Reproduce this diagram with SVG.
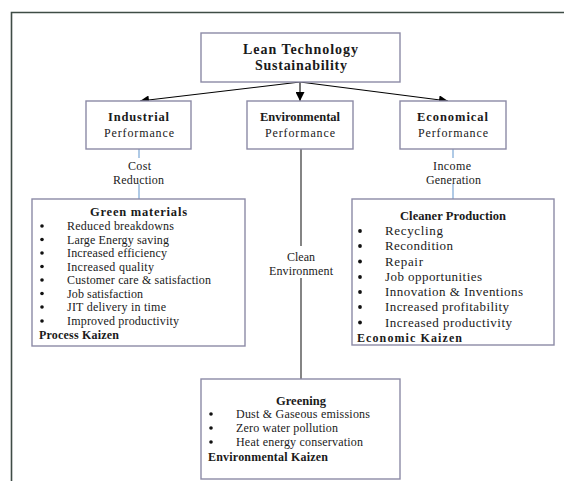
<svg xmlns="http://www.w3.org/2000/svg" width="564" height="481" viewBox="0 0 564 481">
  <defs>
    <marker id="arrow" viewBox="0 0 10 10" refX="10" refY="5" markerWidth="9" markerHeight="9" markerUnits="userSpaceOnUse" orient="auto">
      <path d="M0,0 L10,5 L0,10 z" fill="#000"/>
    </marker>
    <style>
      .frame { fill: none; stroke: #3f4c46; stroke-width: 1.6; }
      .box { fill: #fff; stroke: #8c8aa6; stroke-width: 1.4; }
      .arrow { stroke: #000; stroke-width: 1.1; fill: none; marker-end: url(#arrow); }
      .link-blue { stroke: #7aa7d6; stroke-width: 1.2; fill: none; }
      .link-dark { stroke: #333; stroke-width: 1.2; fill: none; }
      text { font-family: "Liberation Serif", "Times New Roman", serif; fill: #1a1a1a; }
      .title { font-size: 14px; font-weight: bold; text-anchor: middle; }
      .head { font-size: 12.5px; font-weight: bold; text-anchor: middle; }
      .sub { font-size: 12px; text-anchor: middle; }
      .label { font-size: 12px; text-anchor: middle; }
      .item { font-size: 12px; }
      .item-lg { font-size: 13px; }
      .bold { font-weight: bold; }
      .bullet { fill: #111; }
    </style>
  </defs>

  <rect width="564" height="481" fill="#fff"/>
  <!-- page frame -->
  <path class="frame" d="M11.5,481 V12.5 H564"/>

  <!-- connectors -->
  <g id="connectors">
    <line class="arrow" x1="300" y1="82" x2="140" y2="101"/>
    <line class="arrow" x1="300" y1="82" x2="300" y2="101"/>
    <line class="arrow" x1="300" y1="82" x2="448" y2="101"/>
    <line class="link-blue" x1="139" y1="149" x2="139" y2="158"/>
    <line class="link-blue" x1="139" y1="184" x2="139" y2="199"/>
    <line class="link-blue" x1="453" y1="149" x2="453" y2="158"/>
    <line class="link-blue" x1="453" y1="184" x2="453" y2="199"/>
    <line class="link-dark" x1="301" y1="149" x2="301" y2="246"/>
    <line class="link-dark" x1="301" y1="278" x2="301" y2="379"/>
    <text class="label" x="139.5" y="170" textLength="23">Cost</text>
    <text class="label" x="138.5" y="184" textLength="51">Reduction</text>
    <text class="label" x="301" y="261" textLength="28">Clean</text>
    <text class="label" x="301" y="275" textLength="64">Environment</text>
    <text class="label" x="452" y="170" textLength="38">Income</text>
    <text class="label" x="453.5" y="184" textLength="55">Generation</text>
  </g>

  <g id="lean-technology">
    <rect class="box" x="201" y="33" width="199" height="49"/>
    <text class="title" x="300.5" y="54" textLength="115">Lean Technology</text>
    <text class="title" x="301" y="70" textLength="92">Sustainability</text>
  </g>

  <g id="industrial">
    <rect class="box" x="86" y="101" width="105" height="48"/>
    <text class="head" x="138.5" y="121" textLength="61">Industrial</text>
    <text class="sub" x="139" y="137" textLength="70">Performance</text>
  </g>

  <g id="environmental">
    <rect class="box" x="247" y="101" width="106" height="48"/>
    <text class="head" x="300" y="121" textLength="80">Environmental</text>
    <text class="sub" x="300" y="137" textLength="70">Performance</text>
  </g>

  <g id="economical">
    <rect class="box" x="400" y="101" width="106" height="48"/>
    <text class="head" x="452.5" y="121" textLength="71">Economical</text>
    <text class="sub" x="453" y="137" textLength="70">Performance</text>
  </g>

  <g id="green-materials">
    <rect class="box" x="32" y="199" width="213" height="147"/>
    <text class="head" x="138.5" y="216" textLength="97">Green materials</text>
    <g class="bullet">
      <circle cx="42" cy="226" r="1.8"/>
      <circle cx="42" cy="239.5" r="1.8"/>
      <circle cx="42" cy="253" r="1.8"/>
      <circle cx="42" cy="266.5" r="1.8"/>
      <circle cx="42" cy="280" r="1.8"/>
      <circle cx="42" cy="293.5" r="1.8"/>
      <circle cx="42" cy="307" r="1.8"/>
      <circle cx="42" cy="321" r="1.8"/>
    </g>
    <text class="item" x="67" y="230" textLength="107">Reduced breakdowns</text>
    <text class="item" x="67" y="243.5" textLength="102">Large Energy saving</text>
    <text class="item" x="67" y="257" textLength="100">Increased efficiency</text>
    <text class="item" x="67" y="270.5" textLength="87">Increased quality</text>
    <text class="item" x="67" y="284" textLength="144">Customer care &amp; satisfaction</text>
    <text class="item" x="67" y="297.5" textLength="76">Job satisfaction</text>
    <text class="item" x="67" y="311" textLength="99">JIT delivery in time</text>
    <text class="item" x="67" y="325" textLength="112">Improved productivity</text>
    <text class="item bold" x="39" y="339" textLength="80">Process Kaizen</text>
  </g>

  <g id="cleaner-production">
    <rect class="box" x="352" y="199" width="202" height="146"/>
    <text class="head" x="453" y="220" textLength="106">Cleaner Production</text>
    <g class="bullet">
      <circle cx="360" cy="231" r="1.9"/>
      <circle cx="360" cy="246" r="1.9"/>
      <circle cx="360" cy="261.5" r="1.9"/>
      <circle cx="360" cy="277" r="1.9"/>
      <circle cx="360" cy="292" r="1.9"/>
      <circle cx="360" cy="307" r="1.9"/>
      <circle cx="360" cy="322.5" r="1.9"/>
    </g>
    <text class="item-lg" x="385" y="235" textLength="58">Recycling</text>
    <text class="item-lg" x="385" y="250" textLength="68">Recondition</text>
    <text class="item-lg" x="385" y="265.5" textLength="38">Repair</text>
    <text class="item-lg" x="385" y="281" textLength="97">Job opportunities</text>
    <text class="item-lg" x="385" y="296" textLength="138">Innovation &amp; Inventions</text>
    <text class="item-lg" x="385" y="311" textLength="124">Increased profitability</text>
    <text class="item-lg" x="385" y="326.5" textLength="127">Increased productivity</text>
    <text class="item bold" x="357" y="342" textLength="105">Economic Kaizen</text>
  </g>

  <g id="greening">
    <rect class="box" x="201" y="379" width="199" height="100"/>
    <text class="head" x="301" y="405" textLength="50">Greening</text>
    <g class="bullet">
      <circle cx="211" cy="414" r="1.8"/>
      <circle cx="211" cy="428" r="1.8"/>
      <circle cx="211" cy="442" r="1.8"/>
    </g>
    <text class="item" x="236" y="418" textLength="134">Dust &amp; Gaseous emissions</text>
    <text class="item" x="236" y="432" textLength="102">Zero water pollution</text>
    <text class="item" x="236" y="446" textLength="127">Heat energy conservation</text>
    <text class="item bold" x="208" y="461" textLength="120">Environmental Kaizen</text>
  </g>
</svg>
